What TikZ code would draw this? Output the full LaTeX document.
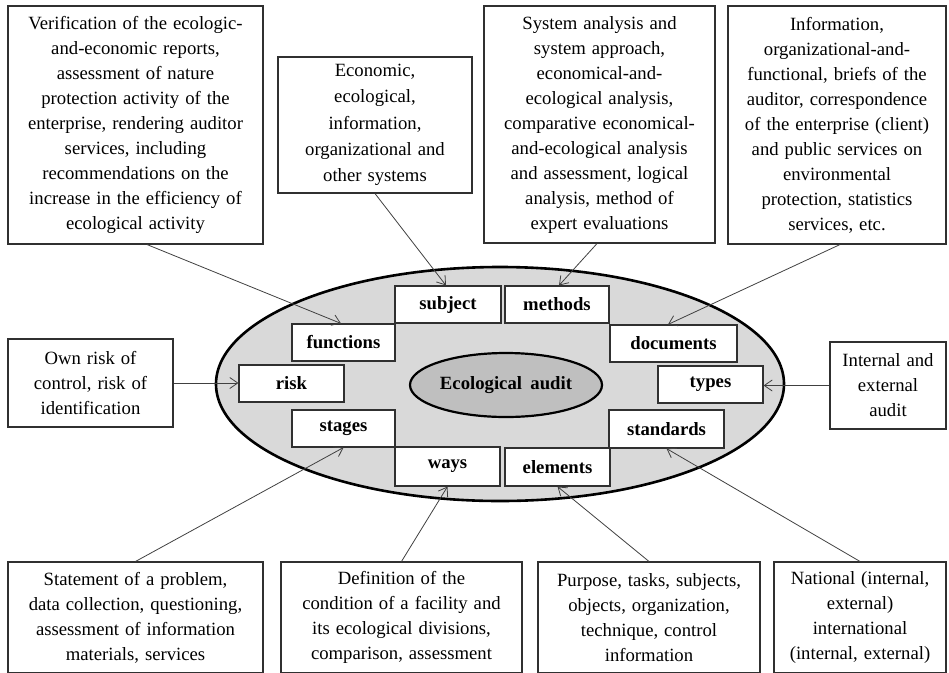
\documentclass[tikz,border=0pt]{standalone}
\usepackage{fontspec}
\setmainfont{Liberation Serif}
\usetikzlibrary{arrows.meta,shapes.geometric}
\definecolor{ellfill}{HTML}{D9D9D9}
\definecolor{corefill}{HTML}{BFBFBF}
\definecolor{edgecol}{HTML}{303030}
\newcommand\myWideSpace{\spaceskip=0.32em plus 0.1em\relax}
\begin{document}
\begin{tikzpicture}[x=1pt,y=-1pt,
  txtbox/.style={draw=edgecol, line width=1.1pt, fill=white, inner sep=0pt, align=center,
    font=\fontsize{18.7}{25}\selectfont\myWideSpace},
  lbl/.style={draw=edgecol, line width=1.1pt, fill=white, inner sep=0pt, minimum height=37pt,
    font=\fontsize{18.7}{22}\selectfont\bfseries},
  arr/.style={draw=black!75, line width=0.8pt, -{Straight Barb[length=8pt,width=11pt]}}]
\useasboundingbox (0,0) rectangle (949,672);

% central ellipses
\node[draw=black, line width=2.6pt, fill=ellfill, ellipse, minimum width=568pt,
  minimum height=234pt, inner sep=0pt] (outer) at (500,384) {};
\node[draw=black, line width=2.2pt, fill=corefill, ellipse, minimum width=192pt,
  minimum height=64pt, inner sep=0pt, font=\fontsize{18.7}{22}\selectfont\bfseries]
  (core) at (506,385) {Ecological\hspace{0.45em}audit};

% labels in the ellipse
\node[lbl, minimum width=106pt] (subject) at (448,304.5) {subject};
\node[lbl, minimum width=104pt] (methods) at (557,304.5) {methods};
\node[lbl, minimum width=103pt] (functions) at (343.5,342.5) {functions};
\node[lbl, minimum width=127pt] (documents) at (673.5,343.5) {documents};
\node[lbl, minimum width=105pt] (risk) at (291.5,383.5) {risk};
\node[lbl, minimum width=105pt] (types) at (710.5,384.5) {types};
\node[lbl, minimum width=103pt] (stages) at (343.5,428.5) {stages};
\node[lbl, minimum width=115pt, minimum height=38pt] (standards) at (666.5,429) {standards};
\node[lbl, minimum width=105pt, minimum height=39pt] (ways) at (447.5,466.5) {ways};
\node[lbl, minimum width=105pt, minimum height=38pt] (elements) at (557.5,467) {elements};

% outer text boxes
\node[txtbox, minimum width=255pt, minimum height=238pt] (tl) at (135.5,125) {%
Verification of the ecologic-\\and-economic reports,\\assessment of nature\\protection activity of the\\enterprise, rendering auditor\\services, including\\recommendations on the\\increase in the efficiency of\\ecological activity};
\node[txtbox, minimum width=194pt, minimum height=136pt,
  font=\fontsize{18.7}{26.3}\selectfont\myWideSpace] (econ) at (375,125) {%
Economic,\\ecological,\\information,\\organizational and\\other systems};
\node[txtbox, minimum width=231pt, minimum height=237pt] (sys) at (599.5,124.5) {%
System analysis and\\system approach,\\economical-and-\\ecological analysis,\\comparative economical-\\and-ecological analysis\\and assessment, logical\\analysis, method of\\expert evaluations};
\node[txtbox, minimum width=218pt, minimum height=238pt] (info) at (837,125) {%
Information,\\organizational-and-\\functional, briefs of the\\auditor, correspondence\\of the enterprise (client)\\and public services on\\environmental\\protection, statistics\\services, etc.};
\node[txtbox, minimum width=165pt, minimum height=88pt] (ownrisk) at (90.5,383) {%
Own risk of\\control, risk of\\identification};
\node[txtbox, minimum width=116pt, minimum height=87pt] (internal) at (888,385.5) {%
Internal and\\external\\audit};
\node[txtbox, minimum width=255pt, minimum height=111pt] (statement) at (135.5,617.5) {%
Statement of a problem,\\data collection, questioning,\\assessment of information\\materials, services};
\node[txtbox, minimum width=241pt, minimum height=111pt] (definition) at (401.5,617.5) {%
Definition of the\\condition of a facility and\\its ecological divisions,\\comparison, assessment};
\node[txtbox, minimum width=222pt, minimum height=111pt] (purpose) at (649,617.5) {%
Purpose, tasks, subjects,\\objects, organization,\\technique, control\\information};
\node[txtbox, minimum width=172pt, minimum height=111pt] (national) at (860,617.5) {%
National (internal,\\external)\\international\\(internal, external)};

% connectors
\draw[arr] ([xshift=11.5pt]tl.south) -- ([xshift=-2.5pt]functions.north);
\draw[arr] (econ.south) -- ([xshift=-2pt]subject.north);
\draw[arr] ([xshift=-2.5pt]sys.south) -- ([xshift=2pt]methods.north);
\draw[arr] ([xshift=3pt]info.south) -- ([xshift=-5.5pt]documents.north);
\draw[arr] (ownrisk.east) -- (ownrisk.east -| risk.west);
\draw[arr] (internal.west) -- (internal.west -| types.east);
\draw[arr] (statement.north) -- (stages.south);
\draw[arr] (definition.north) -- (ways.south);
\draw[arr] (purpose.north) -- (elements.south);
\draw[arr] (national.north) -- (standards.south);
\end{tikzpicture}
\end{document}
